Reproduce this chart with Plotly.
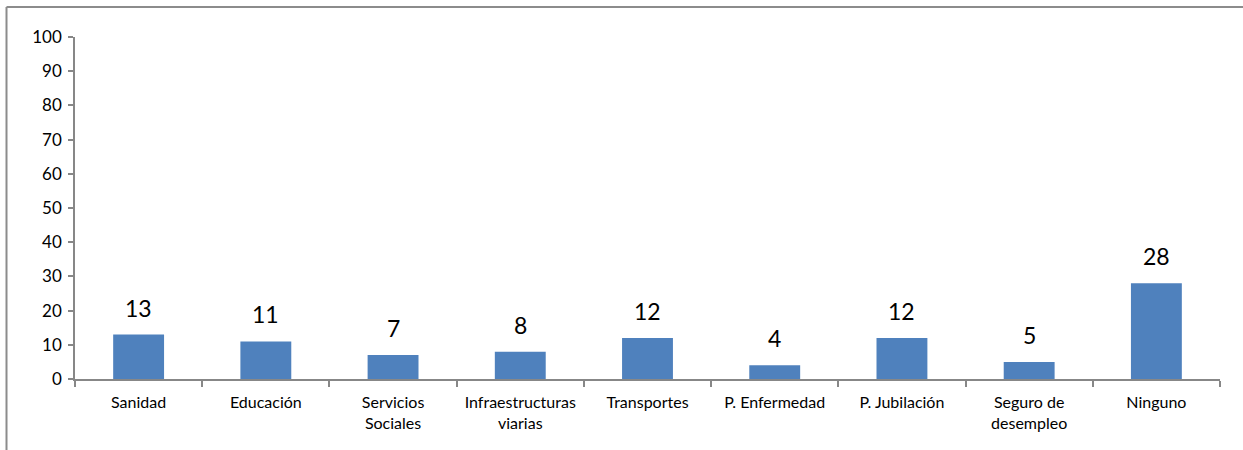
import plotly.graph_objects as go

# Categories (line breaks as shown under the axis)
categories = [
    "Sanidad",
    "Educación",
    "Servicios<br>Sociales",
    "Infraestructuras<br>viarias",
    "Transportes",
    "P. Enfermedad",
    "P. Jubilación",
    "Seguro de<br>desempleo",
    "Ninguno",
]
values = [13, 11, 7, 8, 12, 4, 12, 5, 28]
y_ticks = list(range(0, 101, 10))

FONT = "Lato, Calibri, 'Liberation Sans', sans-serif"
BAR_COLOR = "#4F81BD"
AXIS_COLOR = "#878787"

W, H = 1243, 450
L, R, T, B = 75, 23, 37, 71

fig = go.Figure(
    go.Bar(
        x=categories,
        y=values,
        marker=dict(color=BAR_COLOR, line=dict(width=0)),
        width=0.4,
        hoverinfo="skip",
    )
)

# Value labels above each bar
for c, v in zip(categories, values):
    fig.add_annotation(
        x=c, y=v, text=str(v), showarrow=False,
        xref="x", yref="y", yanchor="middle", yshift=27,
        font=dict(family=FONT, size=23, color="#000000"),
    )

# Outer frame lines (top and left edges of the chart box)
pw, ph = W - L - R, H - T - B
x_left = (6.5 - L) / pw
y_top = (H - B - 7) / ph
y_bot = -(B + 20) / ph
x_right = (W + 20 - L) / pw
fig.add_shape(type="line", xref="paper", yref="paper",
              x0=x_left, x1=x_right, y0=y_top, y1=y_top,
              line=dict(color="#8c8c8c", width=2))
fig.add_shape(type="line", xref="paper", yref="paper",
              x0=x_left, x1=x_left, y0=y_bot, y1=y_top,
              line=dict(color="#8c8c8c", width=2))

fig.update_layout(
    width=W, height=H,
    margin=dict(l=L, r=R, t=T, b=B, pad=0),
    paper_bgcolor="white", plot_bgcolor="white",
    showlegend=False,
    bargap=0.6,
    font=dict(family=FONT, color="#000000"),
)
fig.update_xaxes(
    type="category",
    showline=True, linecolor=AXIS_COLOR, linewidth=1.5,
    ticks="outside", tickson="boundaries", ticklen=6,
    tickcolor=AXIS_COLOR, tickwidth=1.5,
    tickfont=dict(family=FONT, size=16, color="#000000"),
    ticklabelstandoff=8,
    showgrid=False, zeroline=False,
)
fig.update_yaxes(
    range=[0, 100], tickvals=y_ticks,
    showline=True, linecolor=AXIS_COLOR, linewidth=1.5,
    ticks="outside", ticklen=5, tickcolor=AXIS_COLOR, tickwidth=1.5,
    tickfont=dict(family=FONT, size=17, color="#000000"),
    ticklabelstandoff=3,
    showgrid=False, zeroline=False,
)

fig.write_html("out.html")
